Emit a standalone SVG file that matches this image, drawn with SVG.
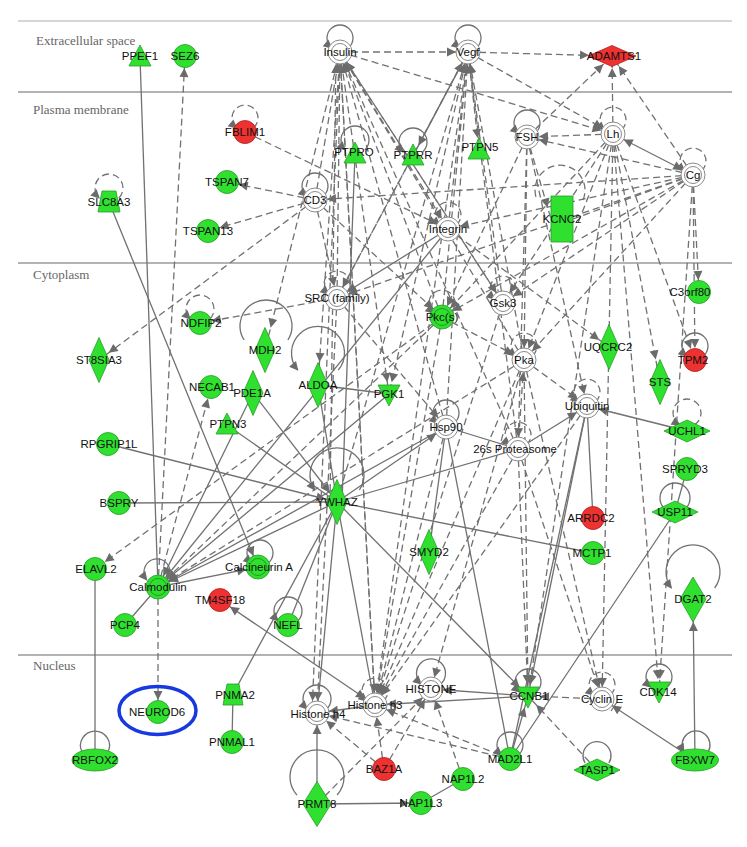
<svg xmlns="http://www.w3.org/2000/svg" width="747" height="847" viewBox="0 0 747 847">
<style>
.s{stroke:#717171;stroke-width:1.3;fill:none}
.d{stroke:#717171;stroke-width:1.3;fill:none;stroke-dasharray:7 4}
.a{marker-end:url(#ar)}
.L{marker-end:url(#arL)}
.b{marker-start:url(#arS)}
.lp{marker-end:url(#ar0)}
.g{fill:#2fe02f;stroke:#2a9c2a;stroke-width:0.8}
.r{fill:#ee3131;stroke:#b02020;stroke-width:0.8}
.c{fill:#fff;stroke:#8a8a8a;stroke-width:1}
.ci{fill:none;stroke:#8a8a8a;stroke-width:1}
.gi{fill:none;stroke:#239a23;stroke-width:1}
.sep{stroke:#9a9a9a;stroke-width:1.5}
text.t{font-family:"Liberation Sans",Arial,sans-serif;font-size:11.5px;fill:#111;text-anchor:middle}
text.cmp{font-family:"Liberation Serif","Times New Roman",serif;font-size:13px;fill:#666}
</style>
<defs>
<marker id="ar" markerWidth="10" markerHeight="9" refX="21" refY="4.5" orient="auto" markerUnits="userSpaceOnUse" overflow="visible"><path d="M0,0L9,4.5L0,9z" fill="#6b6b6b"/></marker>
<marker id="arS" markerWidth="10" markerHeight="9" refX="21" refY="4.5" orient="auto-start-reverse" markerUnits="userSpaceOnUse" overflow="visible"><path d="M0,0L9,4.5L0,9z" fill="#6b6b6b"/></marker>
<marker id="arL" markerWidth="10" markerHeight="9" refX="32" refY="4.5" orient="auto" markerUnits="userSpaceOnUse" overflow="visible"><path d="M0,0L9,4.5L0,9z" fill="#6b6b6b"/></marker>
<marker id="ar0" markerWidth="10" markerHeight="9" refX="8" refY="4.5" orient="auto" markerUnits="userSpaceOnUse" overflow="visible"><path d="M0,0L9,4.5L0,9z" fill="#6b6b6b"/></marker>
</defs>
<rect width="747" height="847" fill="#fff"/>
<g id="compartments">
<line x1="18" y1="21" x2="732" y2="21" stroke="#c8c8c8" stroke-width="1.5"/>
<line class="sep" x1="18" y1="92" x2="732" y2="92"/>
<line class="sep" x1="18" y1="263" x2="732" y2="263"/>
<line class="sep" x1="18" y1="655" x2="732" y2="655"/>
<text class="cmp" x="36" y="45">Extracellular space</text>
<text class="cmp" x="33" y="114">Plasma membrane</text>
<text class="cmp" x="33" y="279">Cytoplasm</text>
<text class="cmp" x="33" y="670">Nucleus</text>
</g>
<g id="connectors">
<line class="d a" x1="340" y1="52" x2="468" y2="52"/>
<line class="d a" x1="340" y1="52" x2="613" y2="134"/>
<line class="d a" x1="468" y1="52" x2="613" y2="134"/>
<line class="d L" x1="468" y1="52" x2="612" y2="56"/>
<line class="d a" x1="527" y1="137" x2="612" y2="56"/>
<line class="d a" x1="613" y1="134" x2="612" y2="56"/>
<line class="d a" x1="693" y1="175" x2="612" y2="56"/>
<line class="d a" x1="468" y1="52" x2="479" y2="150"/>
<line class="d a" x1="613" y1="134" x2="527" y2="137"/>
<line class="d a" x1="693" y1="175" x2="527" y2="137"/>
<line class="d a" x1="245" y1="132" x2="448" y2="229"/>
<line class="d a" x1="693" y1="175" x2="315" y2="200"/>
<line class="d a" x1="693" y1="175" x2="699" y2="292"/>
<line class="d a" x1="315" y1="200" x2="208" y2="231"/>
<line class="d a" x1="315" y1="200" x2="227" y2="182"/>
<line class="d a" x1="315" y1="200" x2="99" y2="360"/>
<line class="d a" x1="337" y1="298" x2="200" y2="323"/>
<line class="d a" x1="158" y1="587" x2="185" y2="56"/>
<line class="d a" x1="158" y1="587" x2="158" y2="712"/>
<line class="d a" x1="158" y1="587" x2="211" y2="387"/>
<line class="d a" x1="442" y1="317" x2="95" y2="569"/>
<line class="d a" x1="442" y1="317" x2="158" y2="587"/>
<line class="d a" x1="524" y1="360" x2="158" y2="587"/>
<line class="d a" x1="524" y1="360" x2="587" y2="406"/>
<line class="d a" x1="597" y1="770" x2="528" y2="696"/>
<line class="d a" x1="602" y1="699" x2="528" y2="696"/>
<line class="d a" x1="384" y1="769" x2="375" y2="705"/>
<line class="d a" x1="384" y1="769" x2="431" y2="689"/>
<line class="d a" x1="384" y1="769" x2="317" y2="713"/>
<line class="d a" x1="317" y1="804" x2="431" y2="689"/>
<line class="d a" x1="463" y1="779" x2="431" y2="689"/>
<line class="d a" x1="510" y1="759" x2="375" y2="705"/>
<line class="d a" x1="510" y1="759" x2="317" y2="713"/>
<line class="d a" x1="613" y1="134" x2="695" y2="360"/>
<line class="d a" x1="693" y1="175" x2="695" y2="360"/>
<line class="d L" x1="613" y1="134" x2="660" y2="382"/>
<line class="d a" x1="448" y1="229" x2="609" y2="347"/>
<line class="d a" x1="613" y1="134" x2="659" y2="691"/>
<line class="d a" x1="693" y1="175" x2="659" y2="691"/>
<line class="d a" x1="518" y1="449" x2="602" y2="699"/>
<line class="d a" x1="524" y1="360" x2="602" y2="699"/>
<line class="d a" x1="613" y1="134" x2="528" y2="696"/>
<line class="d a" x1="613" y1="134" x2="602" y2="699"/>
<line class="d a" x1="337" y1="298" x2="340" y2="52"/>
<line class="d a" x1="442" y1="317" x2="340" y2="52"/>
<line class="d a" x1="503" y1="303" x2="340" y2="52"/>
<line class="d a" x1="524" y1="360" x2="340" y2="52"/>
<line class="d a" x1="330" y1="502" x2="336" y2="52"/>
<line class="d a" x1="375" y1="705" x2="340" y2="52"/>
<line class="d a" x1="315" y1="200" x2="340" y2="52"/>
<line class="d L" x1="340" y1="52" x2="318" y2="385"/>
<line class="d L" x1="340" y1="52" x2="265" y2="350"/>
<line class="d a" x1="340" y1="52" x2="389" y2="394"/>
<line class="d a" x1="468" y1="52" x2="389" y2="394"/>
<line class="d a" x1="446" y1="427" x2="340" y2="52"/>
<line class="d a" x1="518" y1="449" x2="340" y2="52"/>
<line class="d a" x1="442" y1="317" x2="468" y2="52"/>
<line class="d a" x1="503" y1="303" x2="468" y2="52"/>
<line class="d a" x1="524" y1="360" x2="468" y2="52"/>
<line class="d a" x1="337" y1="298" x2="468" y2="52"/>
<line class="d a" x1="448" y1="229" x2="468" y2="52"/>
<line class="d a" x1="518" y1="449" x2="468" y2="52"/>
<line class="d a" x1="446" y1="427" x2="468" y2="52"/>
<line class="d a" x1="337" y1="502" x2="468" y2="52"/>
<line class="d a" x1="527" y1="137" x2="442" y2="317"/>
<line class="d a" x1="613" y1="134" x2="442" y2="317"/>
<line class="d a" x1="693" y1="175" x2="442" y2="317"/>
<line class="d a" x1="315" y1="200" x2="442" y2="317"/>
<line class="d a" x1="315" y1="200" x2="337" y2="298"/>
<line class="d a" x1="468" y1="52" x2="337" y2="298"/>
<line class="d a" x1="340" y1="52" x2="503" y2="303"/>
<line class="d a" x1="613" y1="134" x2="503" y2="303"/>
<line class="d a" x1="527" y1="137" x2="524" y2="360"/>
<line class="d a" x1="613" y1="134" x2="524" y2="360"/>
<line class="d a" x1="693" y1="175" x2="524" y2="360"/>
<line class="d a" x1="442" y1="317" x2="524" y2="360"/>
<line class="d a" x1="518" y1="449" x2="524" y2="360"/>
<line class="d a" x1="340" y1="52" x2="448" y2="229"/>
<line class="d a" x1="527" y1="137" x2="551" y2="219"/>
<line class="d a" x1="340" y1="52" x2="375" y2="705"/>
<line class="d a" x1="468" y1="52" x2="375" y2="705"/>
<line class="d a" x1="442" y1="317" x2="375" y2="705"/>
<line class="d a" x1="503" y1="303" x2="375" y2="705"/>
<line class="d a" x1="524" y1="360" x2="375" y2="705"/>
<line class="d a" x1="446" y1="427" x2="375" y2="705"/>
<line class="d a" x1="518" y1="449" x2="375" y2="705"/>
<line class="d a" x1="587" y1="406" x2="375" y2="705"/>
<line class="d a" x1="524" y1="360" x2="431" y2="689"/>
<line class="d a" x1="337" y1="298" x2="317" y2="713"/>
<line class="d a" x1="340" y1="52" x2="312" y2="713"/>
<line class="d a" x1="518" y1="449" x2="528" y2="696"/>
<line class="d a" x1="524" y1="360" x2="528" y2="696"/>
<line class="d a" x1="337" y1="298" x2="446" y2="427"/>
<line class="d" x1="693" y1="175" x2="573" y2="219"/>
<line class="d a" x1="693" y1="175" x2="337" y2="298"/>
<line class="d a" x1="693" y1="175" x2="503" y2="303"/>
<line class="d a" x1="693" y1="175" x2="448" y2="229"/>
<line class="d a" x1="527" y1="137" x2="518" y2="449"/>
<line class="d a" x1="527" y1="137" x2="587" y2="406"/>
<line class="s a" x1="468" y1="52" x2="413" y2="156"/>
<line class="s a b" x1="613" y1="134" x2="693" y2="175"/>
<line class="s a" x1="109" y1="202" x2="258" y2="567"/>
<line class="s" x1="140" y1="57" x2="158" y2="587"/>
<line class="s" x1="95" y1="569" x2="95" y2="760"/>
<line class="s" x1="158" y1="587" x2="125" y2="625"/>
<line class="s a" x1="158" y1="587" x2="258" y2="567"/>
<line class="s a" x1="337" y1="502" x2="158" y2="587"/>
<line class="s a" x1="446" y1="427" x2="158" y2="587"/>
<line class="s a" x1="389" y1="394" x2="158" y2="587"/>
<line class="s a" x1="253" y1="393" x2="158" y2="587"/>
<line class="s a" x1="448" y1="229" x2="158" y2="587"/>
<line class="s a" x1="108" y1="444" x2="337" y2="502"/>
<line class="s" x1="119" y1="503" x2="337" y2="502"/>
<line class="s" x1="337" y1="502" x2="593" y2="553"/>
<line class="s" x1="227" y1="425" x2="337" y2="502"/>
<line class="s a" x1="253" y1="393" x2="337" y2="502"/>
<line class="s" x1="318" y1="385" x2="337" y2="502"/>
<line class="s" x1="318" y1="385" x2="389" y2="394"/>
<line class="s a" x1="337" y1="502" x2="446" y2="427"/>
<line class="s" x1="337" y1="502" x2="518" y2="449"/>
<line class="s a" x1="337" y1="502" x2="528" y2="696"/>
<line class="s" x1="337" y1="502" x2="288" y2="625"/>
<line class="s" x1="337" y1="502" x2="317" y2="713"/>
<line class="s" x1="337" y1="502" x2="375" y2="705"/>
<line class="s" x1="337" y1="502" x2="233" y2="694"/>
<line class="s" x1="355" y1="154" x2="342" y2="502"/>
<line class="s a b" x1="375" y1="705" x2="220" y2="600"/>
<line class="s" x1="446" y1="427" x2="518" y2="449"/>
<line class="s" x1="446" y1="427" x2="510" y2="759"/>
<line class="s" x1="446" y1="427" x2="429" y2="552"/>
<line class="s a" x1="518" y1="449" x2="587" y2="406"/>
<line class="s a" x1="687" y1="431" x2="587" y2="406"/>
<line class="s" x1="587" y1="406" x2="593" y2="518"/>
<line class="s a" x1="587" y1="406" x2="528" y2="696"/>
<line class="s" x1="587" y1="406" x2="510" y2="759"/>
<line class="s" x1="687" y1="469" x2="675" y2="512"/>
<line class="s" x1="675" y1="512" x2="510" y2="759"/>
<line class="s L" x1="695" y1="760" x2="693" y2="599"/>
<line class="s a" x1="695" y1="760" x2="602" y2="699"/>
<line class="s" x1="617" y1="702" x2="611" y2="711"/>
<line class="s a" x1="510" y1="759" x2="528" y2="696"/>
<line class="s" x1="233" y1="694" x2="232" y2="742"/>
<line class="s a" x1="317" y1="804" x2="317" y2="713"/>
<line class="s a" x1="317" y1="804" x2="421" y2="803"/>
<line class="s" x1="421" y1="803" x2="463" y2="779"/>
<line class="s a" x1="375" y1="705" x2="317" y2="713"/>
<line class="s a" x1="528" y1="696" x2="431" y2="689"/>
<line class="s a" x1="528" y1="696" x2="375" y2="705"/>
<line class="s a" x1="448" y1="229" x2="337" y2="298"/>
</g>
<g id="n-Insulin"><path class="s lp" d="M348.3,48A13,13 0 1 0 331.7,48"/><circle class="c" cx="340" cy="52" r="12"/><circle class="ci" cx="340" cy="52" r="8.5"/><text class="t" x="340" y="56">Insulin</text></g>
<g id="n-Vegf"><path class="s lp" d="M476.3,48A13,13 0 1 0 459.7,48"/><circle class="c" cx="468" cy="52" r="12"/><circle class="ci" cx="468" cy="52" r="8.5"/><text class="t" x="468" y="56">Vegf</text></g>
<g id="n-ADAMTS1"><polygon class="r" points="588,56 612,45.5 636,56 612,66.5"/><text class="t" x="614" y="60">ADAMTS1</text></g>
<g id="n-PPEF1"><polygon class="g" points="140,45 151,66 129,66"/><text class="t" x="140" y="60">PPEF1</text></g>
<g id="n-SEZ6"><circle class="g" cx="185" cy="56" r="11.5"/><text class="t" x="185" y="60">SEZ6</text></g>
<g id="n-FBLIM1"><path class="d lp" d="M253.3,128A13,13 0 1 0 236.7,128"/><circle class="r" cx="245" cy="132" r="11.5"/><text class="t" x="245" y="136">FBLIM1</text></g>
<g id="n-PTPRO"><path class="s lp" d="M364.8,150A14,14 0 1 0 345.2,150"/><polygon class="g" points="355,142 366,163 344,163"/><text class="t" x="354" y="156">PTPRO</text></g>
<g id="n-PTPRR"><path class="s lp" d="M422.8,152A14,14 0 1 0 403.2,152"/><polygon class="g" points="413,144 424,165 402,165"/><text class="t" x="413" y="159">PTPRR</text></g>
<g id="n-PTPN5"><polygon class="g" points="479,138 490,159 468,159"/><text class="t" x="480" y="151">PTPN5</text></g>
<g id="n-FSH"><path class="s lp" d="M535.3,133A13,13 0 1 0 518.7,133"/><circle class="c" cx="527" cy="137" r="12"/><circle class="ci" cx="527" cy="137" r="8.5"/><text class="t" x="527" y="141">FSH</text></g>
<g id="n-Lh"><path class="d lp" d="M621.3,130A13,13 0 1 0 604.7,130"/><circle class="c" cx="613" cy="134" r="12"/><circle class="ci" cx="613" cy="134" r="8.5"/><text class="t" x="613" y="138">Lh</text></g>
<g id="n-Cg"><path class="d lp" d="M701.3,171A13,13 0 1 0 684.7,171"/><circle class="c" cx="693" cy="175" r="12"/><circle class="ci" cx="693" cy="175" r="8.5"/><text class="t" x="693" y="179">Cg</text></g>
<g id="n-KCNC2"><path class="d" d="M583,200A25,25 0 1 0 537,200"/><rect class="g" x="551" y="196" width="22" height="46"/><text class="t" x="562" y="223">KCNC2</text></g>
<g id="n-SLC8A3"><path class="d lp" d="M118.8,198A14,14 0 1 0 99.2,198"/><polygon class="g" points="102,191 116,191 120,212 98,212"/><text class="t" x="109" y="206">SLC8A3</text></g>
<g id="n-TSPAN7"><circle class="g" cx="227" cy="182" r="11.5"/><text class="t" x="227" y="186">TSPAN7</text></g>
<g id="n-TSPAN13"><circle class="g" cx="208" cy="231" r="11.5"/><text class="t" x="208" y="235">TSPAN13</text></g>
<g id="n-CD3"><path class="s lp" d="M323.3,196A13,13 0 1 0 306.7,196"/><circle class="c" cx="315" cy="200" r="12"/><circle class="ci" cx="315" cy="200" r="8.5"/><text class="t" x="315" y="204">CD3</text></g>
<g id="n-Integrin"><path class="d lp" d="M456.3,225A13,13 0 1 0 439.7,225"/><circle class="c" cx="448" cy="229" r="12"/><circle class="ci" cx="448" cy="229" r="8.5"/><text class="t" x="448" y="233">Integrin</text></g>
<g id="n-SRC"><path class="d lp" d="M345.3,294A13,13 0 1 0 328.7,294"/><circle class="c" cx="337" cy="298" r="12"/><circle class="ci" cx="337" cy="298" r="8.5"/><text class="t" x="337" y="302">SRC (family)</text></g>
<g id="n-Pkc"><path class="d lp" d="M450.3,313A13,13 0 1 0 433.7,313"/><circle class="g" cx="442" cy="317" r="12"/><circle class="gi" cx="442" cy="317" r="8.5"/><text class="t" x="442" y="321">Pkc(s)</text></g>
<g id="n-Gsk3"><path class="d lp" d="M511.3,299A13,13 0 1 0 494.7,299"/><circle class="c" cx="503" cy="303" r="12"/><circle class="ci" cx="503" cy="303" r="8.5"/><text class="t" x="503" y="307">Gsk3</text></g>
<g id="n-Pka"><path class="d lp" d="M532.3,356A13,13 0 1 0 515.7,356"/><circle class="c" cx="524" cy="360" r="12"/><circle class="ci" cx="524" cy="360" r="8.5"/><text class="t" x="524" y="364">Pka</text></g>
<g id="n-C3orf80"><circle class="g" cx="699" cy="292" r="11.5"/><text class="t" x="690" y="296">C3orf80</text></g>
<g id="n-NDFIP2"><path class="d lp" d="M209.8,319A14,14 0 1 0 190.2,319"/><circle class="g" cx="200" cy="323" r="11.5"/><text class="t" x="201" y="327">NDFIP2</text></g>
<g id="n-ST8SIA3"><polygon class="g" points="99,337.5 109,360 99,382.5 89,360"/><text class="t" x="99" y="364">ST8SIA3</text></g>
<g id="n-MDH2"><path class="s" d="M287.9,340A26,26 0 1 0 244.1,340"/><polygon class="g" points="265,327.5 275,350 265,372.5 255,350"/><text class="t" x="265" y="354">MDH2</text></g>
<g id="n-ALDOA"><path class="s lp" d="M338.3,370A26.5,26.5 0 1 0 297.7,370"/><polygon class="g" points="318,362.5 328,385 318,407.5 308,385"/><text class="t" x="318" y="389">ALDOA</text></g>
<g id="n-PGK1"><polygon class="g" points="378,385 400,385 389,406"/><text class="t" x="389" y="398">PGK1</text></g>
<g id="n-PDE1A"><polygon class="g" points="253,370.5 263,393 253,415.5 243,393"/><text class="t" x="252" y="397">PDE1A</text></g>
<g id="n-NECAB1"><circle class="g" cx="211" cy="387" r="11.5"/><text class="t" x="212" y="391">NECAB1</text></g>
<g id="n-PTPN3"><polygon class="g" points="227,413 238,434 216,434"/><text class="t" x="228" y="428">PTPN3</text></g>
<g id="n-UQCRC2"><polygon class="g" points="609,324.5 619,347 609,369.5 599,347"/><text class="t" x="608" y="351">UQCRC2</text></g>
<g id="n-STS"><polygon class="g" points="660,359.5 670,382 660,404.5 650,382"/><text class="t" x="660" y="386">STS</text></g>
<g id="n-TPM2"><path class="s lp" d="M703.3,356A13,13 0 1 0 686.7,356"/><circle class="r" cx="695" cy="360" r="11.5"/><text class="t" x="693" y="364">TPM2</text></g>
<g id="n-Ubiquitin"><path class="d lp" d="M595.3,402A13,13 0 1 0 578.7,402"/><circle class="c" cx="587" cy="406" r="12"/><circle class="ci" cx="587" cy="406" r="8.5"/><text class="t" x="587" y="410">Ubiquitin</text></g>
<g id="n-UCHL1"><path class="d lp" d="M694.2,425A14,14 0 1 0 679.8,425"/><polygon class="g" points="664,431 687,420 710,431 687,442"/><text class="t" x="687" y="435">UCHL1</text></g>
<g id="n-Hsp90"><path class="s lp" d="M454.3,423A13,13 0 1 0 437.7,423"/><circle class="c" cx="446" cy="427" r="12"/><circle class="ci" cx="446" cy="427" r="8.5"/><text class="t" x="446" y="431">Hsp90</text></g>
<g id="n-Proteasome"><path class="d lp" d="M526.3,445A13,13 0 1 0 509.7,445"/><circle class="c" cx="518" cy="449" r="12"/><circle class="ci" cx="518" cy="449" r="8.5"/><text class="t" x="515" y="453">26s Proteasome</text></g>
<g id="n-SPRYD3"><circle class="g" cx="687" cy="469" r="11.5"/><text class="t" x="685" y="473">SPRYD3</text></g>
<g id="n-USP11"><path class="s" d="M686.2,508A15,15 0 1 0 663.8,508"/><polygon class="g" points="652,512 675,501 698,512 675,523"/><text class="t" x="675" y="516">USP11</text></g>
<g id="n-ARRDC2"><circle class="r" cx="593" cy="518" r="11.5"/><text class="t" x="591" y="522">ARRDC2</text></g>
<g id="n-MCTP1"><circle class="g" cx="593" cy="553" r="11.5"/><text class="t" x="592" y="557">MCTP1</text></g>
<g id="n-RPGRIP1L"><circle class="g" cx="108" cy="444" r="11.5"/><text class="t" x="109" y="448">RPGRIP1L</text></g>
<g id="n-BSPRY"><circle class="g" cx="119" cy="503" r="11.5"/><text class="t" x="119" y="507">BSPRY</text></g>
<g id="n-YWHAZ"><path class="s lp" d="M359.4,490A27,27 0 1 0 314.6,490"/><polygon class="g" points="337,479.5 347,502 337,524.5 327,502"/><text class="t" x="337" y="506">YWHAZ</text></g>
<g id="n-SMYD2"><polygon class="g" points="429,529.5 439,552 429,574.5 419,552"/><text class="t" x="429" y="556">SMYD2</text></g>
<g id="n-ELAVL2"><circle class="g" cx="95" cy="569" r="11.5"/><text class="t" x="96" y="573">ELAVL2</text></g>
<g id="n-Calmodulin"><path class="s lp" d="M167.2,580A13,13 0 1 0 146.8,580"/><circle class="g" cx="158" cy="587" r="12"/><circle class="gi" cx="158" cy="587" r="8.5"/><text class="t" x="158" y="591">Calmodulin</text></g>
<g id="n-CalcineurinA"><path class="s lp" d="M268.3,563A13,13 0 1 0 251.7,563"/><circle class="g" cx="258" cy="567" r="12"/><circle class="gi" cx="258" cy="567" r="8.5"/><text class="t" x="259" y="571">Calcineurin A</text></g>
<g id="n-TM4SF18"><circle class="r" cx="220" cy="600" r="11.5"/><text class="t" x="220" y="604">TM4SF18</text></g>
<g id="n-PCP4"><circle class="g" cx="125" cy="625" r="11.5"/><text class="t" x="125" y="629">PCP4</text></g>
<g id="n-NEFL"><path class="s lp" d="M297.8,621A14,14 0 1 0 278.2,621"/><circle class="g" cx="288" cy="625" r="11.5"/><text class="t" x="288" y="629">NEFL</text></g>
<g id="n-DGAT2"><path class="s lp" d="M714.7,588A27,27 0 1 0 671.3,588"/><polygon class="g" points="693,577 706,599 693,622 680,599"/><text class="t" x="693" y="603">DGAT2</text></g>
<g id="n-NEUROD6"><circle class="g" cx="158" cy="712" r="11.5"/><ellipse cx="157.5" cy="710.5" rx="38.5" ry="24" fill="none" stroke="#1838e0" stroke-width="3.5"/><text class="t" x="157" y="716">NEUROD6</text></g>
<g id="n-RBFOX2"><path class="s" d="M108,752A14.5,14.5 0 1 0 82,752"/><ellipse class="g" cx="95" cy="760" rx="23" ry="11"/><text class="t" x="95" y="764">RBFOX2</text></g>
<g id="n-PNMA2"><polygon class="g" points="227,684 239,684 243,705 223,705"/><text class="t" x="235" y="699">PNMA2</text></g>
<g id="n-PNMAL1"><circle class="g" cx="232" cy="742" r="11.5"/><text class="t" x="232" y="746">PNMAL1</text></g>
<g id="n-Histoneh4"><path class="s lp" d="M326.8,709A14,14 0 1 0 307.2,709"/><circle class="c" cx="317" cy="713" r="12"/><circle class="ci" cx="317" cy="713" r="8.5"/><text class="t" x="318" y="718">Histone h4</text></g>
<g id="n-Histoneh3"><path class="d lp" d="M383.3,701A13,13 0 1 0 366.7,701"/><circle class="c" cx="375" cy="705" r="12"/><circle class="ci" cx="375" cy="705" r="8.5"/><text class="t" x="375" y="709">Histone h3</text></g>
<g id="n-HISTONE"><path class="s lp" d="M440.8,684A14.5,14.5 0 1 0 421.2,684"/><circle class="c" cx="431" cy="689" r="12"/><circle class="ci" cx="431" cy="689" r="8.5"/><text class="t" x="431" y="693">HISTONE</text></g>
<g id="n-BAZ1A"><circle class="r" cx="384" cy="769" r="11.5"/><text class="t" x="384" y="773">BAZ1A</text></g>
<g id="n-NAP1L2"><circle class="g" cx="463" cy="779" r="11.5"/><text class="t" x="463" y="783">NAP1L2</text></g>
<g id="n-NAP1L3"><circle class="g" cx="421" cy="803" r="11.5"/><text class="t" x="421" y="807">NAP1L3</text></g>
<g id="n-PRMT8"><path class="s" d="M337.1,795A27,27 0 1 0 296.9,795"/><polygon class="g" points="317,781.5 331,804 317,826.5 303,804"/><text class="t" x="317" y="808">PRMT8</text></g>
<g id="n-CCNB1"><path class="s lp" d="M536.3,692A13,13 0 1 0 519.7,692"/><polygon class="g" points="517,687 539,687 528,708"/><text class="t" x="529" y="700">CCNB1</text></g>
<g id="n-CyclinE"><path class="d lp" d="M610.3,695A13,13 0 1 0 593.7,695"/><circle class="c" cx="602" cy="699" r="12"/><circle class="ci" cx="602" cy="699" r="8.5"/><text class="t" x="602" y="703">Cyclin E</text></g>
<g id="n-CDK14"><path class="s lp" d="M667.3,687A13,13 0 1 0 650.7,687"/><polygon class="g" points="648,682 670,682 659,703"/><text class="t" x="658" y="696">CDK14</text></g>
<g id="n-MAD2L1"><path class="s lp" d="M518.3,755A13,13 0 1 0 501.7,755"/><circle class="g" cx="510" cy="759" r="11.5"/><text class="t" x="510" y="763">MAD2L1</text></g>
<g id="n-TASP1"><path class="s" d="M608.9,763A14,14 0 1 0 585.1,763"/><polygon class="g" points="574,770 597,759 620,770 597,781"/><text class="t" x="597" y="774">TASP1</text></g>
<g id="n-FBXW7"><path class="s lp" d="M708.1,752A14,14 0 1 0 683.9,752"/><ellipse class="g" cx="695" cy="760" rx="23.5" ry="11"/><text class="t" x="695" y="764">FBXW7</text></g>
</svg>
